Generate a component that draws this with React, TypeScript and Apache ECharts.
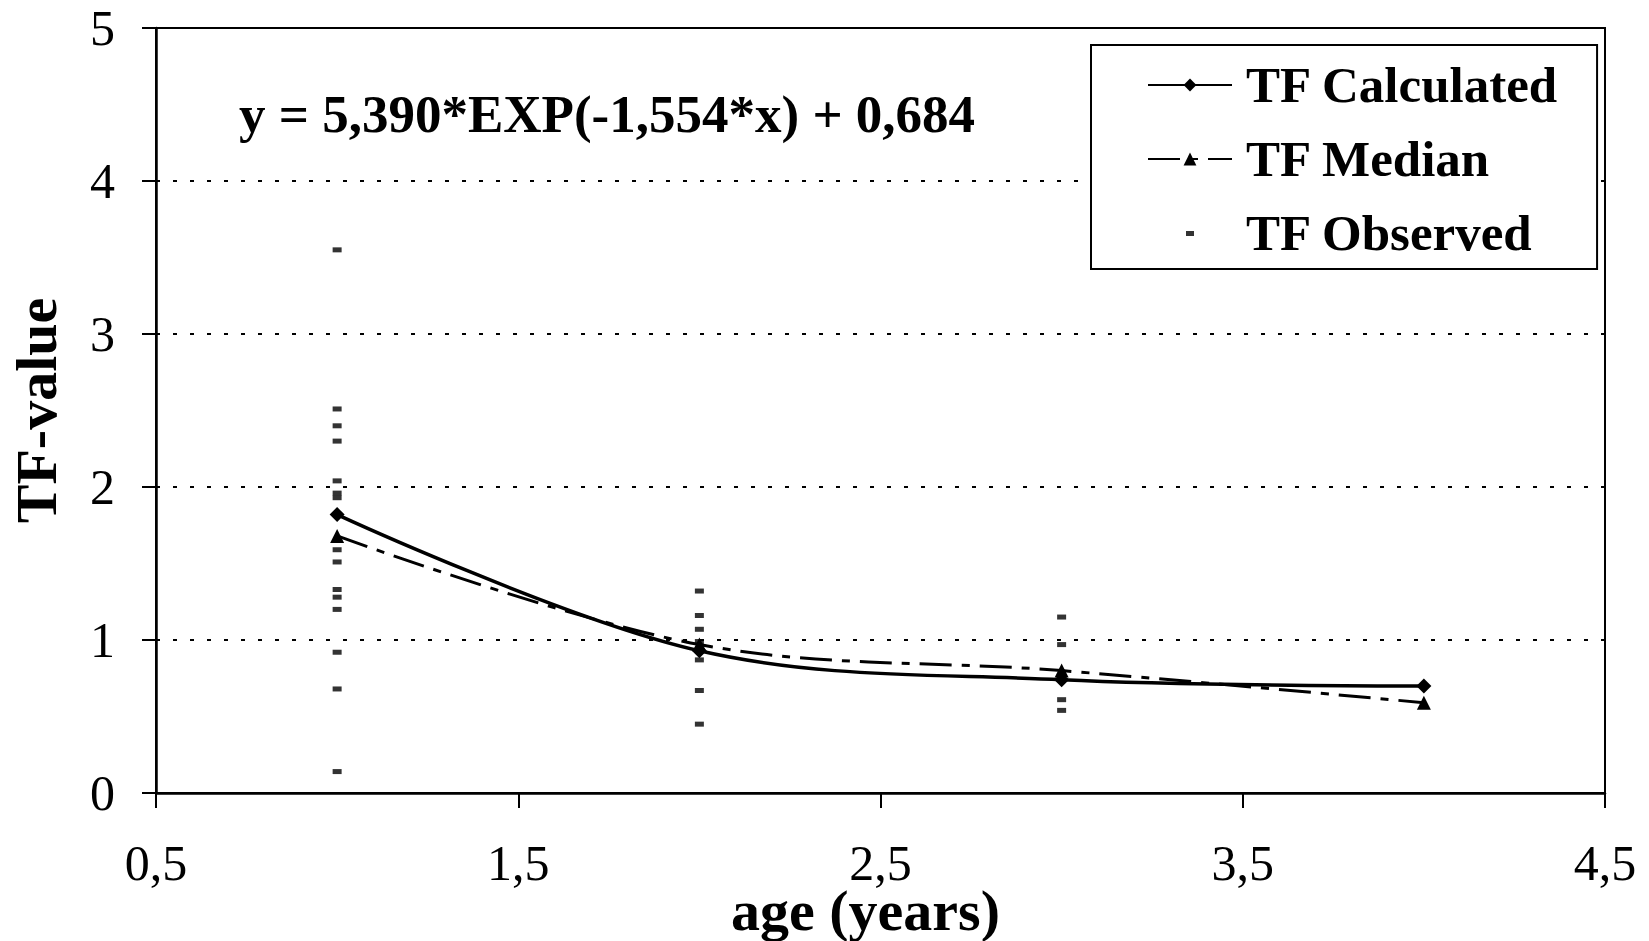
import React, { useEffect, useRef } from "react";
import * as echarts from "echarts";

const ages = [1, 2, 3, 4];
const tfCalculated = [1.82, 0.93, 0.74, 0.7];
const tfMedian = [1.68, 0.97, 0.8, 0.59];
const observedAge1 = [3.55, 2.51, 2.4, 2.3, 2.04, 1.96, 1.93, 1.59, 1.51, 1.33, 1.28, 1.2, 0.92, 0.68, 0.14];
const observedAge2 = [1.32, 1.16, 1.07, 0.99, 0.87, 0.67, 0.45];
const observedAge3 = [1.15, 0.97, 0.61, 0.54];
const observedAge4: number[] = [];
const xTickValues = [0.5, 1.5, 2.5, 3.5, 4.5];
const equationText = "y = 5,390*EXP(-1,554*x) + 0,684";

const FONT = '"Liberation Serif", "Times New Roman", serif';

export default function App() {
  const ref = useRef<HTMLDivElement>(null);
  useEffect(() => {
    if (!ref.current) return;
    const chart = echarts.init(ref.current, undefined, { renderer: "svg" });
    const observedGroups = [observedAge1, observedAge2, observedAge3, observedAge4];
    const observed: number[][] = [];
    observedGroups.forEach((g, i) => g.forEach((v) => observed.push([ages[i], v])));

    chart.setOption({
      animation: false,
      backgroundColor: "#fff",
      textStyle: { fontFamily: FONT, color: "#000" },
      grid: {
        left: 156,
        right: 44,
        top: 28,
        bottom: 148,
        outerBoundsMode: "none",
        containLabel: false,
        show: true,
        borderColor: "#000",
        borderWidth: 2,
        backgroundColor: "transparent",
      },
      xAxis: {
        type: "value",
        min: 0.5,
        max: 4.5,
        name: "age (years)",
        nameLocation: "middle",
        nameGap: 91,
        nameMoveOverlap: false,
        nameTextStyle: {
          fontSize: 58,
          fontWeight: "bold",
          fontFamily: FONT,
          color: "#000",
          lineHeight: 52,
          padding: [0, 30, 0, 0],
        },
        axisLine: { show: true, onZero: false, lineStyle: { color: "#000", width: 2.5 } },
        axisTick: { show: true, inside: false, length: 15, customValues: xTickValues, lineStyle: { color: "#000", width: 2 } },
        axisLabel: {
          customValues: xTickValues,
          fontSize: 50,
          lineHeight: 40,
          fontFamily: FONT,
          color: "#000",
          margin: 50,
          formatter: (v: number) => String(v).replace(".", ","),
        },
        splitLine: { show: false },
      },
      yAxis: {
        type: "value",
        min: 0,
        max: 5,
        interval: 1,
        name: "TF-value",
        nameLocation: "middle",
        nameGap: 91,
        nameMoveOverlap: false,
        nameTextStyle: { fontSize: 58, fontWeight: "bold", fontFamily: FONT, color: "#000" },
        axisLine: { show: true, lineStyle: { color: "#000", width: 2.5 } },
        axisTick: { show: true, inside: false, length: 14, lineStyle: { color: "#000", width: 2 } },
        axisLabel: { fontSize: 50, fontFamily: FONT, color: "#000", margin: 41 },
        splitLine: { show: true, lineStyle: { color: "#000", width: 2, type: [4, 13] } },
      },
      legend: {
        orient: "vertical",
        left: 1091,
        top: 45,
        itemWidth: 84,
        itemHeight: 16,
        itemGap: 22,
        padding: [14, 38, 10, 56],
        borderColor: "#000",
        borderWidth: 2,
        backgroundColor: "#fff",
        selectedMode: false,
        textStyle: {
          fontSize: 51,
          fontWeight: "bold",
          fontFamily: FONT,
          color: "#000",
          lineHeight: 52,
          padding: [0, 0, 0, 9],
        },
        data: [
          "TF Calculated",
          "TF Median",
          { name: "TF Observed", icon: "path://M0,0 M84,16 M38,6 h8 v5 h-8 z" },
        ],
      },
      graphic: [
        {
          type: "text",
          x: 239,
          y: 114,
          style: {
            text: equationText,
            font: `bold 53px ${FONT}`,
            fill: "#000",
            verticalAlign: "middle",
            align: "left",
          },
        },
      ],
      series: [
        {
          name: "TF Observed",
          type: "scatter",
          symbol: "rect",
          symbolSize: [9, 5],
          itemStyle: { color: "#000" },
          data: observed,
          z: 1,
        },
        {
          name: "TF Median",
          type: "line",
          smooth: 0.35,
          symbol: "triangle",
          symbolSize: 14,
          itemStyle: { color: "#000" },
          lineStyle: { color: "#000", width: 3, type: [32, 10, 8, 10] },
          data: ages.map((a, i) => [a, tfMedian[i]]),
          z: 2,
        },
        {
          name: "TF Calculated",
          type: "line",
          smooth: 0.35,
          symbol: "diamond",
          symbolSize: 15,
          itemStyle: { color: "#000" },
          lineStyle: { color: "#000", width: 3.5, type: "solid" },
          data: ages.map((a, i) => [a, tfCalculated[i]]),
          z: 3,
        },
      ],
    });
    return () => chart.dispose();
  }, []);
  return (
    <div
      ref={ref}
      style={{ position: "absolute", left: 0, top: 0, width: 1649, height: 941 }}
    />
  );
}
